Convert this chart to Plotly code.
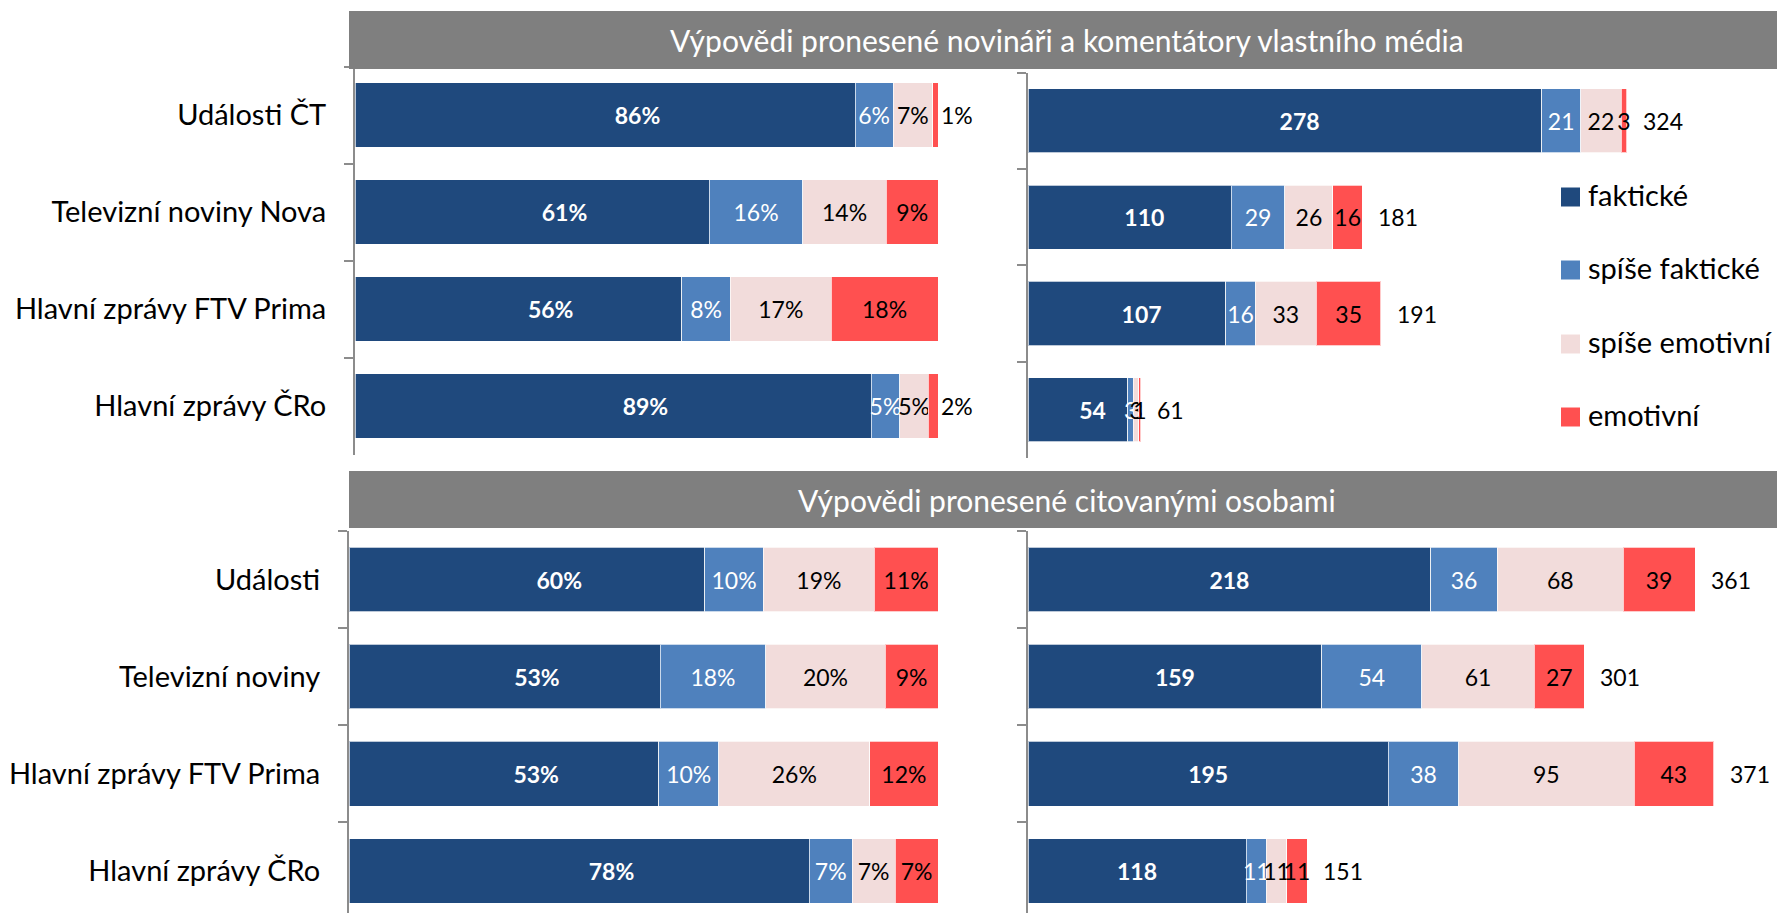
import plotly.graph_objects as go

# ---------------- data ----------------
series = ["faktické", "spíše faktické", "spíše emotivní", "emotivní"]
colors = ["#1F497D", "#4F81BD", "#F2DCDB", "#FF5050"]
label_colors = ["white", "white", "black", "black"]

cats_top = ["Události ČT", "Televizní noviny Nova", "Hlavní zprávy FTV Prima", "Hlavní zprávy ČRo"]
cats_bottom = ["Události", "Televizní noviny", "Hlavní zprávy FTV Prima", "Hlavní zprávy ČRo"]

# statements by journalists and commentators of the own medium (counts)
top_fakticke = [278, 110, 107, 54]
top_spise_fakticke = [21, 29, 16, 3]
top_spise_emotivni = [22, 26, 33, 3]
top_emotivni = [3, 16, 35, 1]

# statements by quoted persons (counts)
bot_fakticke = [218, 159, 195, 118]
bot_spise_fakticke = [36, 54, 38, 11]
bot_spise_emotivni = [68, 61, 95, 11]
bot_emotivni = [39, 27, 43, 11]

header_top = "Výpovědi pronesené novináři a komentátory vlastního média"
header_bottom = "Výpovědi pronesené citovanými osobami"

# ---------------- layout helpers ----------------
W, H = 1777, 913
FONT = "Lato"
BIG = 29
HDR = 30
LBL = 23
AXC = "#8C8C8C"


def px_x(p):
    return p / W


def px_y(p):
    return 1 - p / H


fig = go.Figure()


def add_panel(counts, cats, xa, ya, percent, first_pad):
    totals = [sum(v) for v in zip(*counts)]
    for i, (name, vals) in enumerate(zip(series, counts)):
        if percent:
            xs = [v / t for v, t in zip(vals, totals)]
            tmpl = "%{x:.0%}"
            pos = ["outside" if (i == 3 and x < 0.03) else "inside" for x in xs]
        else:
            xs = vals
            tmpl = "%{x}"
            pos = ["inside"] * len(xs)
        if i == 0:
            tmpl = "\u00a0" * first_pad + "<b>" + tmpl + "</b>"
        fig.add_trace(go.Bar(
            x=xs, y=cats, orientation="h", name=name,
            marker=dict(color=colors[i], line=dict(color="rgba(255,255,255,0.7)", width=1)),
            width=0.665,
            texttemplate=tmpl,
            textposition=pos,
            insidetextanchor="middle",
            textangle=0,
            textfont=dict(family=FONT, size=LBL, color=label_colors[i]),
            outsidetextfont=dict(family=FONT, size=LBL, color="black"),
            cliponaxis=False,
            xaxis=xa, yaxis=ya, showlegend=False, hoverinfo="skip",
        ))
    return totals


top_counts = [top_fakticke, top_spise_fakticke, top_spise_emotivni, top_emotivni]
bot_counts = [bot_fakticke, bot_spise_fakticke, bot_spise_emotivni, bot_emotivni]

add_panel(top_counts, cats_top, "x", "y", True, 11)
tot_top = add_panel(top_counts, cats_top, "x2", "y2", False, 5)
add_panel(bot_counts, cats_bottom, "x3", "y3", True, 11)
tot_bot = add_panel(bot_counts, cats_bottom, "x4", "y4", False, 0)

annotations = []
for tots, cats, xr, yr in [(tot_top, cats_top, "x2", "y2"), (tot_bot, cats_bottom, "x4", "y4")]:
    for t, c in zip(tots, cats):
        annotations.append(dict(x=t, y=c, xref=xr, yref=yr, text=str(t), showarrow=False,
                                xanchor="left", xshift=14,
                                font=dict(family=FONT, size=LBL, color="black")))

# header bands
shapes = []
for (y0, y1), txt in [((11, 69), header_top), ((471, 528), header_bottom)]:
    shapes.append(dict(type="rect", xref="paper", yref="paper",
                       x0=px_x(349), x1=1.0, y0=px_y(y1), y1=px_y(y0),
                       fillcolor="#7F7F7F", line=dict(width=0), layer="above"))
    annotations.append(dict(x=px_x(1067), y=px_y((y0 + y1) / 2), xref="paper", yref="paper",
                            text=txt, showarrow=False, xanchor="center", yanchor="middle",
                            font=dict(family=FONT, size=HDR, color="white")))

# custom legend
leg_y = [197, 270, 344, 417]
for name, col, yc in zip(series, colors, leg_y):
    shapes.append(dict(type="rect", xref="paper", yref="paper",
                       x0=px_x(1561), x1=px_x(1580), y0=px_y(yc + 9.5), y1=px_y(yc - 9.5),
                       fillcolor=col, line=dict(width=0)))
    annotations.append(dict(x=px_x(1586), y=px_y(yc), xref="paper", yref="paper",
                            text=name, showarrow=False, xanchor="left", yanchor="middle",
                            yshift=3,
                            font=dict(family=FONT, size=BIG, color="black")))

hidden_x = dict(showgrid=False, zeroline=False, showticklabels=False, showline=False, ticks="")


def yax(domain, rng, labels):
    return dict(domain=domain, range=rng, type="category",
                showline=True, linecolor=AXC, linewidth=2,
                ticks="outside", ticklen=9, tickwidth=2, tickcolor=AXC,
                tickson="boundaries", showgrid=False, zeroline=False,
                showticklabels=labels, ticklabelstandoff=21,
                tickfont=dict(family=FONT, size=BIG, color="black"))


RMAX = (W - 1028) / 1.848
bot_top_px = 531
bot_span = (H - bot_top_px) / 97.1

fig.update_layout(
    width=W, height=H,
    margin=dict(l=0, r=0, t=0, b=0),
    paper_bgcolor="white", plot_bgcolor="white",
    barmode="stack",
    uniformtext=dict(mode="show", minsize=LBL),
    font=dict(family=FONT, color="black"),
    xaxis=dict(domain=[px_x(355), px_x(938)], range=[0, 1], anchor="y", **hidden_x),
    yaxis=dict(anchor="x", **yax([px_y(454.7), px_y(66.7)], [3.5, -0.5], True)),
    xaxis2=dict(domain=[px_x(1028), 1.0], range=[0, RMAX], anchor="y2", **hidden_x),
    yaxis2=dict(anchor="x2", **yax([px_y(458), px_y(72.7)], [3.5, -0.5], False)),
    xaxis3=dict(domain=[px_x(349), px_x(938)], range=[0, 1], anchor="y3", **hidden_x),
    yaxis3=dict(anchor="x3", **yax([0, px_y(bot_top_px)], [-0.5 + bot_span, -0.5], True)),
    xaxis4=dict(domain=[px_x(1028), 1.0], range=[0, RMAX], anchor="y4", **hidden_x),
    yaxis4=dict(anchor="x4", **yax([0, px_y(bot_top_px)], [-0.5 + bot_span, -0.5], False)),
    shapes=shapes,
    annotations=annotations,
)

fig.write_html(
    "out.html",
    config={"displayModeBar": False},
    post_script="document.body.style.margin='0';document.body.style.padding='0';"
                "document.body.style.overflow='hidden';",
)
